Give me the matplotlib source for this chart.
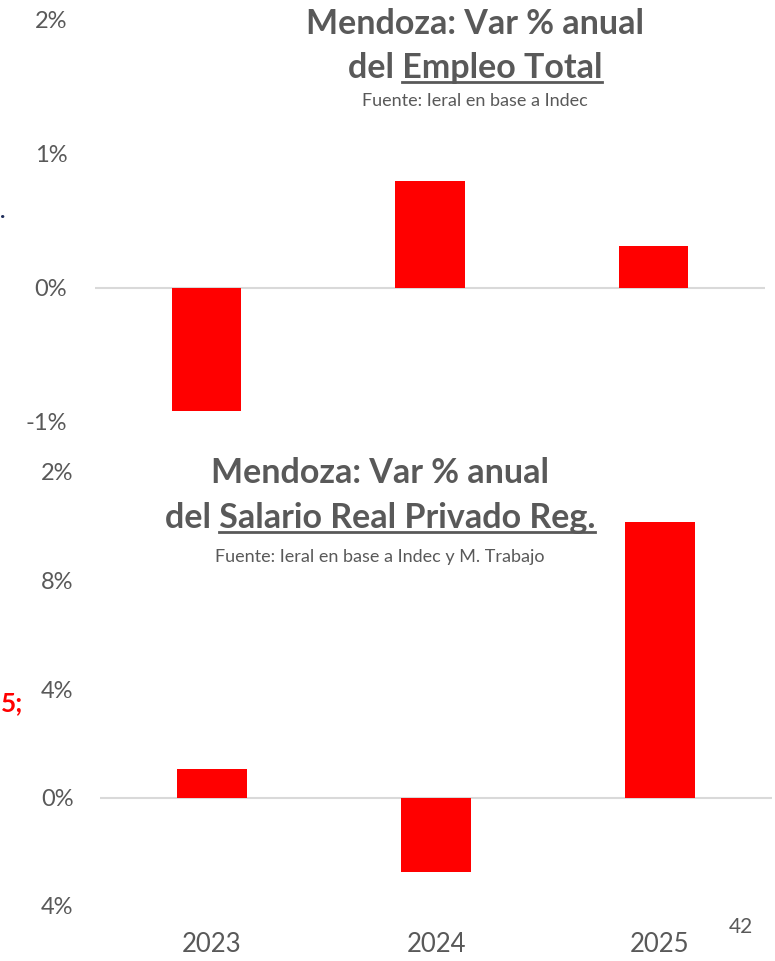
"""
Mendoza: empleo total y salario real privado, var % anual
"""
import matplotlib.pyplot as plt

plt.rcParams['font.family'] = ['Lato', 'DejaVu Sans']

years = ['2023', '2024', '2025']
empleo = [-0.92, 0.80, 0.31]
salario = [1.05, -2.75, 10.15]

empleo_ticks = [-1, 0, 1, 2]
empleo_ticklabels = ['-1%', '0%', '1%', '2%']
salario_ticks = [-4, 0, 4, 8, 12]
salario_ticklabels = ['4%', '0%', '4%', '8%', '2%']  # cut off at the left edge in the original

W, H = 775, 961
GRAY = '#595959'
RED = '#ff0000'

fig = plt.figure(figsize=(W / 100, H / 100), dpi=100)


def px_axes(x0, x1, y0, y1):
    # pixel box (top-left origin) -> figure axes
    return fig.add_axes([x0 / W, 1 - y1 / H, (x1 - x0) / W, (y1 - y0) / H])


def style(ax, ticks, labels, lo, hi, pad):
    ax.set_ylim(lo, hi)
    ax.set_xlim(-0.5, 2.5)
    ax.set_yticks(ticks)
    ax.set_yticklabels(labels)
    ax.tick_params(axis='y', length=0, pad=pad, labelsize=17, labelcolor=GRAY)
    for s in ax.spines.values():
        s.set_visible(False)
    ax.axhline(0, color='#d9d9d9', lw=1.5, zorder=1)


# top chart: empleo
ax1 = px_axes(95, 765, 20, 422)
ax1.bar(range(len(years)), empleo, width=0.31, color=RED, zorder=2)
style(ax1, empleo_ticks, empleo_ticklabels, -1, 2, 20)
ax1.set_xticks([])

# bottom chart: salario
ax2 = px_axes(100, 772, 472, 906)
ax2.bar(range(len(years)), salario, width=0.31, color=RED, zorder=2)
style(ax2, salario_ticks, salario_ticklabels, -4, 12, 19)
ax2.set_xticks(range(len(years)))
ax2.set_xticklabels(years)
ax2.tick_params(axis='x', length=0, pad=19, labelsize=18.5, labelcolor=GRAY)

TSIZE = 24.5


def title(cx, y1, y2, y3, under, sub):
    fig.text(cx / W, 1 - y1 / H, 'Mendoza: Var % anual', ha='center', va='center',
             fontsize=TSIZE, fontweight='bold', color=GRAY)
    t = fig.text(cx / W, 1 - y2 / H, 'del ' + under, ha='center', va='center',
                 fontsize=TSIZE, fontweight='bold', color=GRAY)
    fig.text(cx / W, 1 - y3 / H, sub, ha='center', va='center', fontsize=13, color=GRAY)
    return t, under


t1 = title(475, 24, 68, 101, 'Empleo Total', 'Fuente: Ieral en base a Indec')
t2 = title(380, 473, 518, 557, 'Salario Real Privado Reg.',
           'Fuente: Ieral en base a Indec y M. Trabajo')

# underline the second part of each title line
fig.canvas.draw()
r = fig.canvas.get_renderer()
for t, under in (t1, t2):
    bb = t.get_window_extent(r)
    tmp = fig.text(0, 0, under, fontsize=TSIZE, fontweight='bold')
    w = tmp.get_window_extent(r).width
    tmp.remove()
    y = bb.y0 + 2
    fig.add_artist(plt.Line2D([(bb.x1 - w) / W, bb.x1 / W], [y / H, y / H],
                              color=GRAY, lw=2))

# page leftovers
fig.text(0 / W, 1 - 212 / H, '.', ha='left', va='center', fontsize=16,
         fontweight='bold', color='#1f2d5a')
fig.text(1 / W, 1 - 703 / H, '5;', ha='left', va='center', fontsize=19,
         fontweight='bold', color=RED)
fig.text(741 / W, 1 - 927 / H, '42', ha='center', va='center', fontsize=15, color=GRAY)

fig.savefig('out.png', dpi=100)
